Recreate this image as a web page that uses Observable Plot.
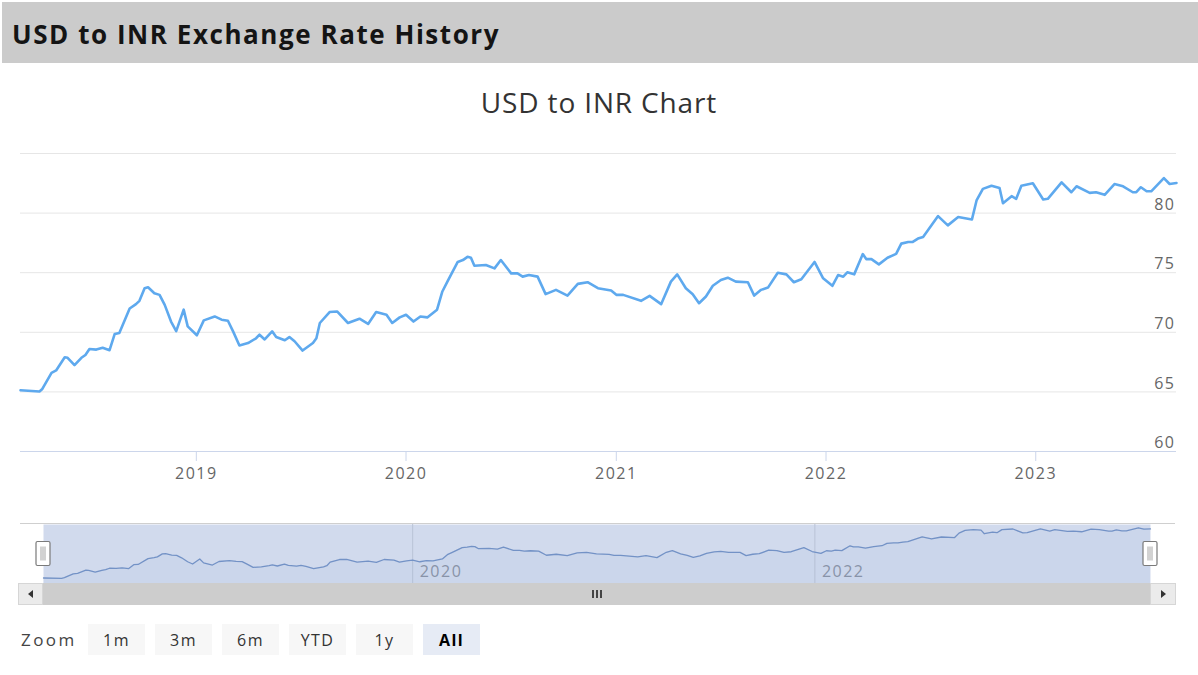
<!DOCTYPE html>
<html>
<head>
<meta charset="utf-8">
<script src="https://cdn.jsdelivr.net/npm/d3@7"></script>
<script src="https://cdn.jsdelivr.net/npm/@observablehq/plot@0.6"></script>
<style>
  body { margin: 0; background: #fff; }
  #root { position: relative; width: 1198px; height: 675px; overflow: hidden; font-family: "Open Sans", sans-serif; background: #fff; }
  #header { position: absolute; left: 2px; top: 2px; width: 1196px; height: 61px; background: #cbcbcb; }
  #header h1 { position: absolute; left: 10px; top: 19px; margin: 0; font-size: 26px; line-height: 26px; font-weight: 700; color: #141414; letter-spacing: 1.55px; white-space: nowrap; }
  #title { position: absolute; left: 0; top: 88px; width: 1198px; text-align: center; font-size: 28px; line-height: 28px; color: #333; letter-spacing: 0.85px; }
  #main { position: absolute; left: 0; top: 140px; }
  #main text, #nav text { letter-spacing: 1.5px; }
  #nav { position: absolute; left: 0; top: 510px; }
  .chrome { position: absolute; box-sizing: border-box; }
  #zoomrow { position: absolute; left: 21px; top: 624px; height: 31px; display: flex; align-items: center; }
  #zoomrow .lbl { width: 67px; font-size: 17px; color: #444; letter-spacing: 2.4px; }
  #zoomrow .btn { width: 57px; height: 31px; margin-right: 10px; background: #f7f7f7; color: #333; font-size: 16px; letter-spacing: 1.4px; display: flex; align-items: center; justify-content: center; }
  #zoomrow .btn.on { background: #e6ebf5; color: #000; font-weight: 700; }
</style>
</head>
<body>
<div id="root">
  <div id="header"><h1>USD to INR Exchange Rate History</h1></div>
  <div id="title">USD to INR Chart</div>
  <div id="main"></div>
  <div id="nav"></div>
  <div id="zoomrow"></div>
</div>
<script>
// Weekly-ish USD/INR closing rates
const dates = [
  "2018-03-01","2018-04-03","2018-04-08","2018-04-24","2018-05-02","2018-05-17","2018-05-22","2018-06-03",
  "2018-06-15","2018-06-22","2018-06-29","2018-07-11","2018-07-22","2018-08-03","2018-08-12","2018-08-20",
  "2018-09-07","2018-09-18","2018-09-24","2018-10-03","2018-10-09","2018-10-20","2018-10-29","2018-11-07",
  "2018-11-18","2018-11-27","2018-12-10","2018-12-17","2019-01-02","2019-01-14","2019-02-02","2019-02-14",
  "2019-02-25","2019-03-06","2019-03-17","2019-04-01","2019-04-15","2019-04-21","2019-04-30","2019-05-13",
  "2019-05-20","2019-06-04","2019-06-12","2019-06-21","2019-07-05","2019-07-23","2019-07-29","2019-08-04",
  "2019-08-21","2019-09-03","2019-09-22","2019-10-12","2019-10-27","2019-11-10","2019-11-28","2019-12-08",
  "2019-12-21","2020-01-01","2020-01-14","2020-01-26","2020-02-07","2020-02-24","2020-03-04","2020-03-13",
  "2020-03-31","2020-04-09","2020-04-17","2020-04-23","2020-04-29","2020-05-19","2020-06-03","2020-06-14",
  "2020-07-02","2020-07-13","2020-07-22","2020-08-02","2020-08-17","2020-08-31","2020-09-18","2020-10-08",
  "2020-10-26","2020-11-12","2020-11-30","2020-12-23","2021-01-01","2021-01-13","2021-02-13","2021-02-28",
  "2021-03-20","2021-04-06","2021-04-17","2021-05-02","2021-05-14","2021-05-25","2021-06-06","2021-06-18",
  "2021-07-02","2021-07-14","2021-07-28","2021-08-18","2021-08-29","2021-09-10","2021-09-22","2021-10-09",
  "2021-10-24","2021-11-06","2021-11-19","2021-12-12","2021-12-27","2022-01-12","2022-01-22","2022-01-31",
  "2022-02-07","2022-02-19","2022-03-06","2022-03-12","2022-03-21","2022-04-03","2022-04-18","2022-05-03",
  "2022-05-12","2022-05-24","2022-06-01","2022-06-10","2022-06-19","2022-07-15","2022-08-01","2022-08-19",
  "2022-09-12","2022-09-20","2022-10-01","2022-10-16","2022-10-30","2022-11-05","2022-11-20","2022-11-28",
  "2022-12-07","2022-12-27","2023-01-14","2023-01-22","2023-02-15","2023-03-04","2023-03-13","2023-04-05",
  "2023-04-16","2023-05-01","2023-05-18","2023-06-02","2023-06-19","2023-06-25","2023-07-03","2023-07-13",
  "2023-07-21","2023-08-12","2023-08-22","2023-09-03"
];
const rates = [
  65.14,65.03,65.25,66.6,66.8,67.9,67.86,67.25,
  67.86,68.1,68.6,68.55,68.7,68.5,69.86,69.95,
  72.0,72.36,72.64,73.7,73.78,73.28,73.14,72.3,
  70.9,70.1,71.9,70.5,69.75,71.0,71.33,71.06,
  70.97,70.08,68.9,69.1,69.5,69.8,69.4,70.08,
  69.6,69.33,69.6,69.25,68.47,69.1,69.5,70.78,
  71.7,71.75,70.78,71.14,70.7,71.7,71.47,70.78,
  71.25,71.47,70.9,71.33,71.25,71.9,73.4,74.25,
  75.9,76.06,76.33,76.25,75.58,75.64,75.36,76.06,
  74.94,74.94,74.67,74.8,74.67,73.2,73.56,73.08,
  74.06,74.2,73.7,73.5,73.14,73.14,72.64,73.06,
  72.36,74.25,74.86,73.7,73.2,72.44,73.0,73.9,
  74.39,74.58,74.25,74.2,73.08,73.56,73.75,75.0,
  74.86,74.2,74.45,75.9,74.53,73.9,74.8,74.67,
  75.03,74.86,76.56,76.14,76.14,75.7,76.25,76.58,
  77.44,77.58,77.58,77.86,78.0,79.75,78.97,79.67,
  79.47,81.06,82.03,82.3,82.1,80.83,81.42,81.2,
  82.3,82.5,81.14,81.2,82.58,81.75,82.25,81.7,
  81.75,81.53,82.44,82.25,81.75,81.75,82.17,81.83,
  81.83,82.94,82.44,82.53
];

// Axis ticks
const xTickYears = [2019, 2020, 2021, 2022, 2023];
const yGridValues = [60, 65, 70, 75, 80, 85];
const yLabelValues = [60, 65, 70, 75, 80];
const navTickYears = [2020, 2022];
const navRange = [63.2, 84.1];
const zoomButtons = ["1m", "3m", "6m", "YTD", "1y", "All"];
const selectedButton = "All";

const series = dates.map((d, i) => ({date: new Date(d + "T00:00:00Z"), rate: rates[i]}));
const first = series[0].date;
const last = series[series.length - 1].date;
const yearDate = (y) => new Date(Date.UTC(y, 0, 1));

// Main price chart
const main = Plot.plot({
  width: 1198,
  height: 350,
  marginLeft: 20,
  marginRight: 22,
  marginTop: 13,
  marginBottom: 39,
  style: {fontFamily: "'Open Sans', sans-serif", fontSize: "16px", background: "transparent", overflow: "visible"},
  x: {type: "utc", domain: [first, last]},
  y: {domain: [60, 85]},
  marks: [
    Plot.gridY(yGridValues, {stroke: "#e6e6e6", strokeOpacity: 1}),
    Plot.ruleY([60], {stroke: "#ccd6eb"}),
    Plot.axisX(xTickYears.map(yearDate), {
      tickSize: 10, tickPadding: 6, stroke: "#ccd6eb", strokeOpacity: 1, fill: "#666",
      tickFormat: d3.utcFormat("%Y"), label: null
    }),
    Plot.axisY(yLabelValues, {
      anchor: "right", tickSize: 0, tickPadding: 0, textAnchor: "end",
      dx: -1, dy: -8.5, fill: "#666", label: null
    }),
    Plot.line(series, {x: "date", y: "rate", stroke: "#5ea9ee", strokeWidth: 2.6, strokeLinejoin: "round", strokeLinecap: "round"})
  ]
});
document.getElementById("main").append(main);

// Navigator strip
const navColor = "#7392c6";
const nav = Plot.plot({
  width: 1198,
  height: 100,
  marginLeft: 43,
  marginRight: 48,
  marginTop: 14,
  marginBottom: 27,
  style: {fontFamily: "'Open Sans', sans-serif", fontSize: "16px", background: "transparent", overflow: "visible"},
  x: {type: "utc", domain: [first, last], axis: null},
  y: {domain: navRange, axis: null},
  marks: [
    Plot.frame({fill: "rgb(209,218,237)", stroke: "none"}),
    Plot.ruleX(navTickYears.map(yearDate), {stroke: "#b9c3d6", strokeWidth: 1}),
    Plot.text(navTickYears.map(yearDate), {
      x: (d) => d, text: (d) => String(d.getUTCFullYear()),
      frameAnchor: "bottom", lineAnchor: "middle", textAnchor: "start", dx: 7, dy: -11.5, fill: "#8a93a6"
    }),
    Plot.areaY(series, {x: "date", y1: navRange[0], y2: "rate", fill: navColor, fillOpacity: 0.06}),
    Plot.line(series, {x: "date", y: "rate", stroke: navColor, strokeWidth: 1.3})
  ]
});
document.getElementById("nav").append(nav);

// Navigator handles, drawn at the ends of the selected range
const sx = nav.scale("x");
const sy = nav.scale("y");
const xa = sx.apply(first);
const xb = sx.apply(last);
const yMid = (sy.apply(navRange[0]) + sy.apply(navRange[1])) / 2;
const svgNav = d3.select(nav.tagName.toLowerCase() === "svg" ? nav : nav.querySelector("svg"));
for (const hx of [xa, xb]) {
  const g = svgNav.append("g").attr("transform", `translate(${hx},${yMid})`);
  g.append("rect").attr("x", -7).attr("y", -12).attr("width", 14).attr("height", 24)
    .attr("rx", 1.5).attr("fill", "#fff").attr("stroke", "#7a7a7a").attr("stroke-width", 1.2);
  g.append("rect").attr("x", -3).attr("y", -7).attr("width", 6).attr("height", 14)
    .attr("fill", "#d2d2d2");
}

// Top border and scrollbar around the navigator
const root = document.getElementById("root");
const navTop = 510;
function box(left, top, width, height, css) {
  const d = document.createElement("div");
  d.className = "chrome";
  Object.assign(d.style, {left: left + "px", top: top + "px", width: width + "px", height: height + "px"}, css || {});
  root.append(d);
  return d;
}
const yTop = navTop + sy.apply(navRange[1]);
const yBot = navTop + sy.apply(navRange[0]);
box(20, yTop - 1, 1155, 1, {background: "#cfcfcf"});
const sbH = 22;
box(18, yBot, 1158, sbH, {background: "#f2f2f2"});
box(18, yBot, xa - 18, sbH, {background: "#ebebeb", border: "1px solid #d6d6d6"});
box(xb, yBot, 1176 - xb, sbH, {background: "#ebebeb", border: "1px solid #d6d6d6"});
box(xa, yBot, xb - xa, sbH, {background: "#cdcdcd"});
// arrows
box((18 + xa) / 2 - 3, yBot + sbH / 2 - 4, 0, 0, {borderTop: "4px solid transparent", borderBottom: "4px solid transparent", borderRight: "5px solid #333"});
box((xb + 1176) / 2 - 2, yBot + sbH / 2 - 4, 0, 0, {borderTop: "4px solid transparent", borderBottom: "4px solid transparent", borderLeft: "5px solid #333"});
// grip
const gx = (xa + xb) / 2;
for (const off of [-5, -1, 3]) box(gx + off, yBot + sbH / 2 - 4, 2, 8, {background: "#444"});

// Range selector buttons
const row = document.getElementById("zoomrow");
const lbl = document.createElement("span");
lbl.className = "lbl";
lbl.textContent = "Zoom";
row.append(lbl);
for (const b of zoomButtons) {
  const el = document.createElement("div");
  el.className = "btn" + (b === selectedButton ? " on" : "");
  el.textContent = b;
  row.append(el);
}
</script>
</body>
</html>
